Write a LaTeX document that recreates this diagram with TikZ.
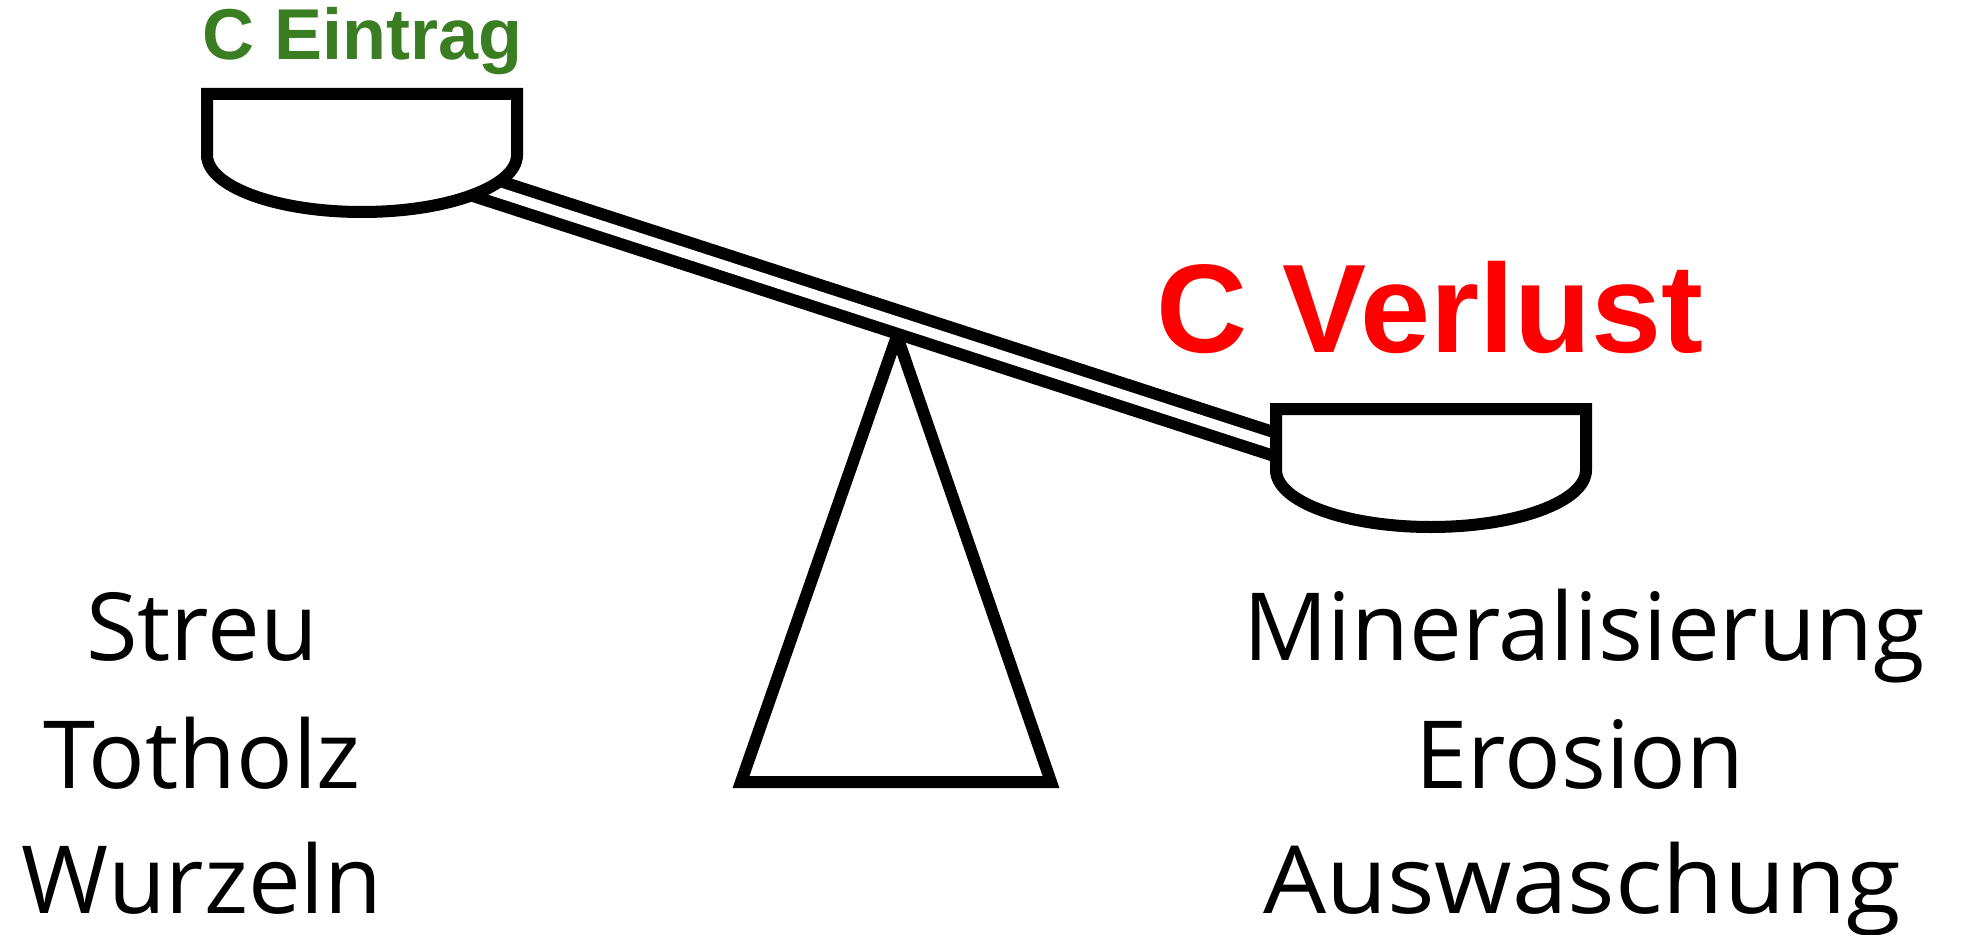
\documentclass[tikz,border=0pt]{standalone}
\usepackage{fontspec}
\setmainfont{Open Sans}
\newfontfamily\headfont{Liberation Sans}
\definecolor{eintraggreen}{RGB}{59,125,35}
\definecolor{verlustred}{RGB}{255,0,0}

\begin{document}
\begin{tikzpicture}[x=0.5pt,y=-0.5pt,
 pan/.style={draw,fill=white,line width=6pt,line join=miter},
 beam/.style={double,double distance=5.25pt,line width=6pt},
 flux/.style={font=\fontsize{47}{56}\selectfont,anchor=base,inner sep=0pt},
 head/.style={anchor=base,inner sep=0pt}]
\useasboundingbox (0,0) rectangle (1962,935);
% fulcrum
\draw[pan] (897,336) -- (741,782) -- (1051,782) -- cycle;
% beam between the pans
\coordinate (beamL) at (380,154);
\coordinate (beamR) at (1400,485);
\draw[beam] (beamL) -- (beamR);
% pans
\draw[pan] (207,94) -- (517,94) -- (517,155)
 arc[start angle=0,end angle=-180,x radius=77.5pt,y radius=28.5pt] -- cycle;
\draw[pan] (1276,409) -- (1586,409) -- (1586,470)
 arc[start angle=0,end angle=-180,x radius=77.5pt,y radius=28.5pt] -- cycle;
% headings
\node[head,text=eintraggreen,font=\headfont\bfseries\fontsize{36}{40}\selectfont] (eintrag) at (363,60) {C Eintrag};
\node[head,text=verlustred,font=\headfont\bfseries\fontsize{63}{70}\selectfont] (verlust) at (1430,352) {C Verlust};
% inputs
\node[flux] (streu) at (202,660) {Streu};
\node[flux] (totholz) at (202,788) {Totholz};
\node[flux] (wurzeln) at (202,913) {Wurzeln};
% losses
\node[flux] (mineral) at (1584,660) {Mineralisierung};
\node[flux] (erosion) at (1580,788) {Erosion};
\node[flux] (auswasch) at (1582,913) {\scalebox{1.06}[1]{Auswaschung}};
\end{tikzpicture}
\end{document}
